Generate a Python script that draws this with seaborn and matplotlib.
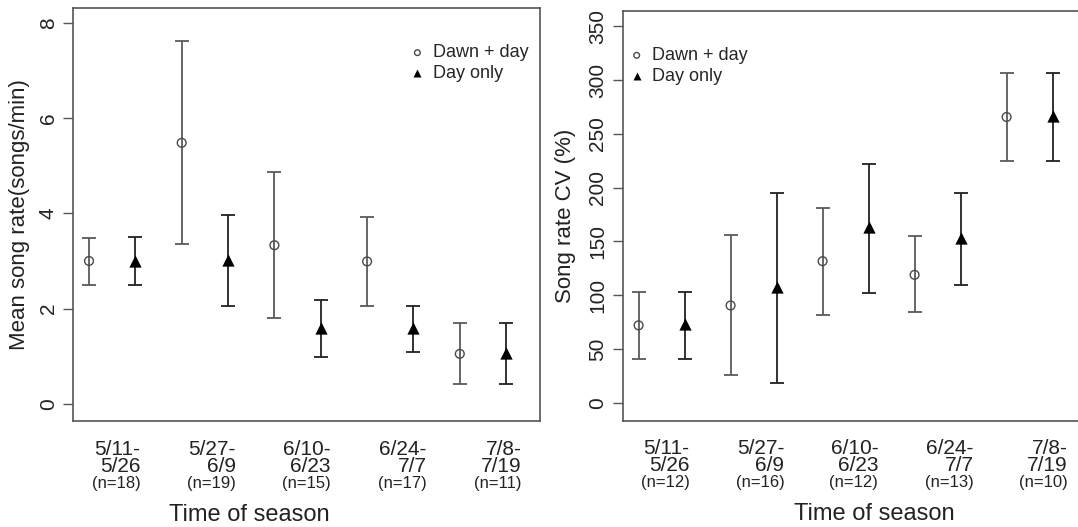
import numpy as np
import pandas as pd
import matplotlib as mpl
import seaborn as sns
from matplotlib import pyplot as plt
from matplotlib import transforms

# time-of-season bins and sample sizes
periods = ["5/11-\n5/26", "5/27-\n6/9", "6/10-\n6/23", "6/24-\n7/7", "7/8-\n7/19"]
groups = ["Dawn + day", "Day only"]

# left panel: mean song rate (songs/min)
rate_n = [18, 19, 15, 17, 11]
rate_dawn = [3.0, 5.48, 3.33, 2.99, 1.05]
rate_dawn_lo = [2.49, 3.35, 1.81, 2.05, 0.42]
rate_dawn_hi = [3.49, 7.61, 4.87, 3.93, 1.70]
rate_day = [3.0, 3.03, 1.60, 1.59, 1.07]
rate_day_lo = [2.50, 2.05, 0.98, 1.08, 0.42]
rate_day_hi = [3.50, 3.96, 2.18, 2.05, 1.70]

# right panel: song rate CV (%)
cv_n = [12, 16, 12, 13, 10]
cv_dawn = [72.0, 90.5, 131.7, 119.0, 265.8]
cv_dawn_lo = [41.0, 25.4, 82.0, 84.3, 225.0]
cv_dawn_hi = [103.0, 156.5, 181.5, 155.0, 306.6]
cv_day = [73.5, 107.8, 163.5, 153.3, 266.4]
cv_day_lo = [41.0, 18.6, 102.2, 109.6, 225.0]
cv_day_hi = [103.0, 195.5, 222.0, 195.5, 306.6]


def make_df(dawn, dawn_lo, dawn_hi, day, day_lo, day_hi):
    df = {"period": [], "group": [], "pos": [], "mean": [], "lo": [], "hi": []}
    for i in range(len(periods)):
        for j, (m, lo, hi) in enumerate(((dawn[i], dawn_lo[i], dawn_hi[i]),
                                         (day[i], day_lo[i], day_hi[i]))):
            df["period"].append(periods[i])
            df["group"].append(groups[j])
            df["pos"].append(2 * i + j + 1)
            df["mean"].append(m)
            df["lo"].append(lo)
            df["hi"].append(hi)
    return pd.DataFrame(df)


sns.set_style("white")
plt.rcParams["font.family"] = ["Liberation Sans", "DejaVu Sans"]

fig = plt.figure(figsize=(10.78, 5.27), dpi=100)
ax1 = fig.add_axes([0.0677, 0.2002, 0.4332, 0.7846])
ax2 = fig.add_axes([0.5776, 0.2017, 0.4300, 0.7774])

styles = {
    "Dawn + day": dict(marker=mpl.markers.MarkerStyle("o", fillstyle="none"),
                       color="#4a4a4a", s=40, linewidth=1.0, ecolor="#5a5a5a"),
    "Day only": dict(marker="^", color="black", s=78, linewidth=0, ecolor="#222222"),
}

label_x = [2.11, 4.17, 6.21, 8.28, 10.33]


def draw(ax, df, n, ylabel, yticks, ylim, legend_anchor, xlabel_x):
    for grp in groups:
        sub = df[df.group == grp]
        st = styles[grp]
        ax.errorbar(sub["pos"], sub["mean"],
                    yerr=[sub["mean"] - sub["lo"], sub["hi"] - sub["mean"]],
                    fmt="none", ecolor=st["ecolor"], elinewidth=1.3,
                    capsize=4.8, capthick=1.3, zorder=2)
        sns.scatterplot(data=sub, x="pos", y="mean", ax=ax, marker=st["marker"],
                        color=st["color"], s=st["s"], linewidth=st["linewidth"],
                        label=grp, legend=False, zorder=3)

    ax.set_xlim(0.654, 10.73)
    ax.set_ylim(*ylim)
    ax.set_xticks([])
    ax.set_yticks(yticks)
    ax.set_yticklabels([str(t) for t in yticks], rotation=90, va="center")
    ax.tick_params(axis="y", left=True, length=7, width=1.0, color="#555555",
                   labelsize=15, pad=4, labelcolor="#222222")
    for sp in ax.spines.values():
        sp.set_color("#555555")
        sp.set_linewidth(1.2)

    trans = transforms.blended_transform_factory(ax.transData, ax.transAxes)
    for i, p in enumerate(periods):
        ax.text(label_x[i], -0.044, p, transform=trans, ha="right", va="top",
                fontsize=15, linespacing=0.9, color="#222222", multialignment="right")
        ax.text(label_x[i], -0.133, f"(n={n[i]})", transform=trans, ha="right",
                va="top", fontsize=12, color="#222222")

    ax.set_xlabel("Time of season", fontsize=17, color="#222222")
    ax.xaxis.set_label_coords(xlabel_x, -0.2)
    ax.set_ylabel(ylabel, fontsize=16, color="#222222")

    ax.legend(loc="upper left", bbox_to_anchor=legend_anchor, frameon=False,
              fontsize=13, markerscale=0.65, handlelength=0.8, handletextpad=0.45,
              labelspacing=0.2, borderpad=0, borderaxespad=0)


rate_df = make_df(rate_dawn, rate_dawn_lo, rate_dawn_hi, rate_day, rate_day_lo, rate_day_hi)
cv_df = make_df(cv_dawn, cv_dawn_lo, cv_dawn_hi, cv_day, cv_day_lo, cv_day_hi)

draw(ax1, rate_df, rate_n, "Mean song rate(songs/min)", [0, 2, 4, 6, 8],
     (-0.37, 8.31), (0.722, 0.912), 0.377)
draw(ax2, cv_df, cv_n, "Song rate CV (%)", list(range(0, 351, 50)),
     (-16.7, 364.4), (0.0147, 0.912), 0.542)
ax1.yaxis.set_label_coords(-0.092, 0.5)
ax2.yaxis.set_label_coords(-0.1, 0.5)

fig.savefig("out.png", dpi=100)
